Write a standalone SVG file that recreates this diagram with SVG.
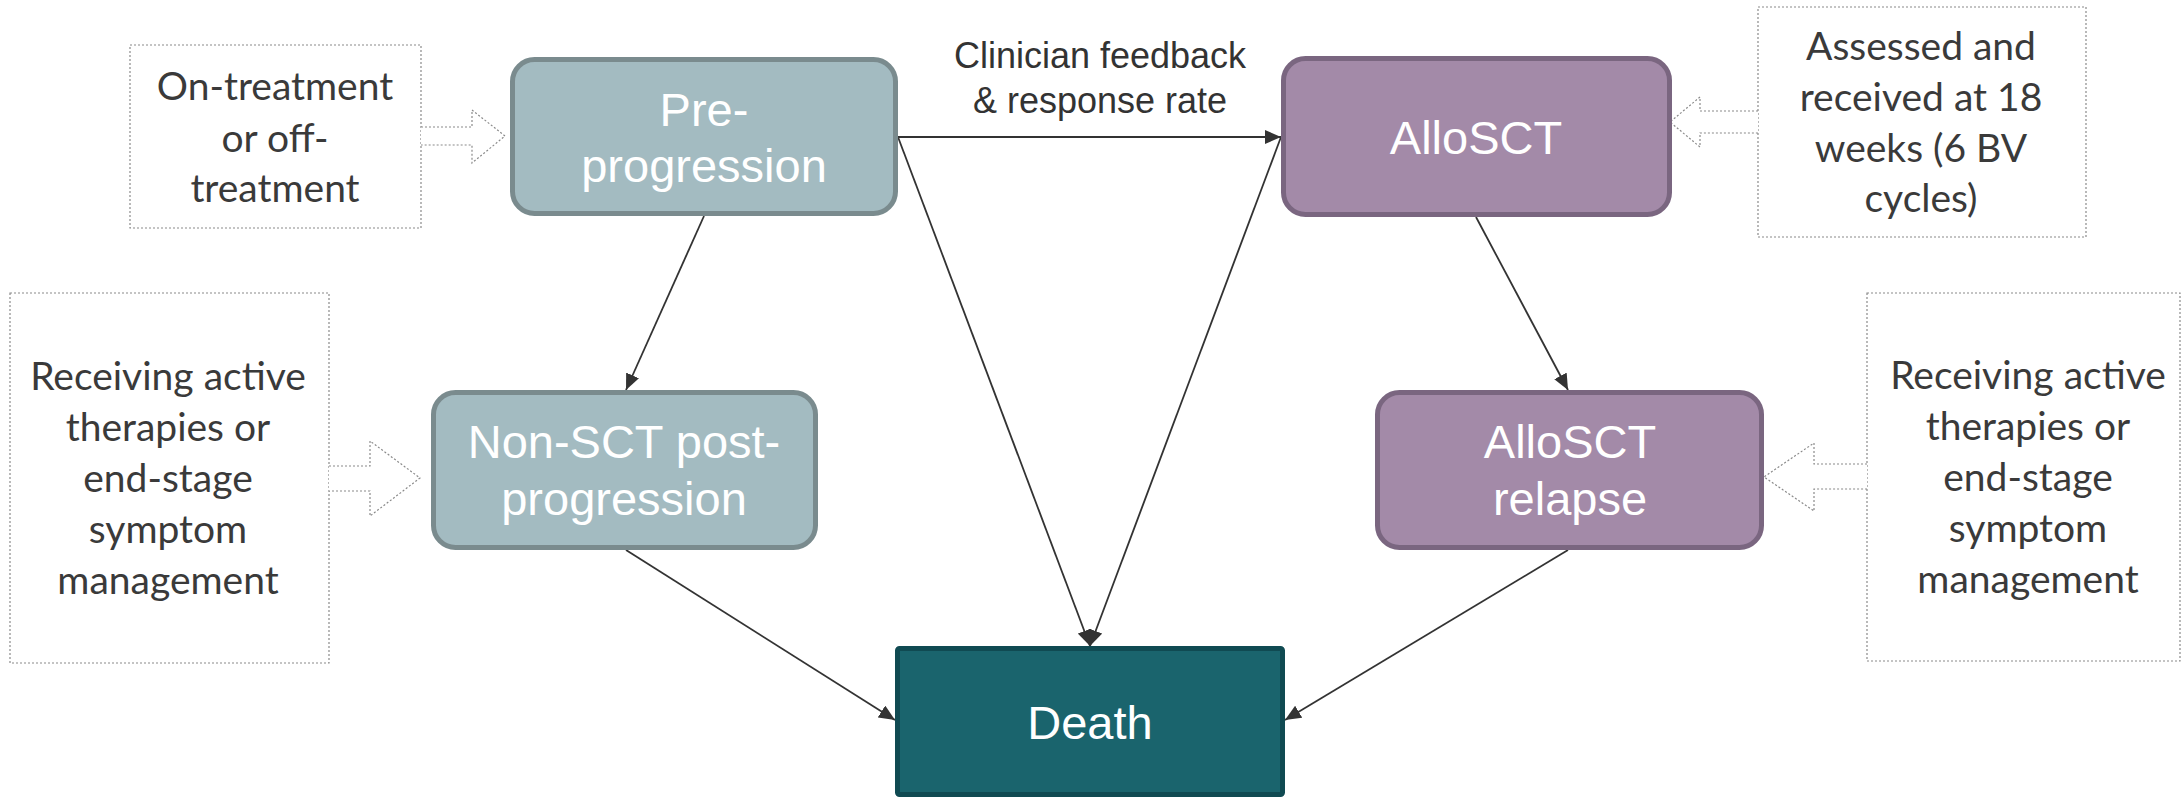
<svg xmlns="http://www.w3.org/2000/svg" width="2181" height="797" viewBox="0 0 2181 797">
<style>
.note{fill:#ffffff;stroke:#8a8a8a;stroke-width:1.2;stroke-dasharray:2 2}
.blk{fill:#ffffff;stroke:#8a8a8a;stroke-width:1.2;stroke-dasharray:2 2}
.nt{font-family:Lato,"Liberation Sans",sans-serif;font-size:39px;fill:#3a3a3a;text-anchor:middle}
.teal{fill:#a3bbc1;stroke:#7a8b8e;stroke-width:5}
.purp{fill:#a38aa8;stroke:#7a6680;stroke-width:5}
.death{fill:#1a646d;stroke:#104a52;stroke-width:5}
.lbl{font-family:"Liberation Sans",Arial,sans-serif;font-size:47px;fill:#ffffff;text-anchor:middle}
.edge{stroke:#333333;stroke-width:1.8;fill:none;marker-end:url(#ah)}
.el{font-family:"Liberation Sans",Arial,sans-serif;font-size:36px;fill:#333333;text-anchor:middle}
</style>
<defs>
<marker id="ah" markerUnits="userSpaceOnUse" markerWidth="16" markerHeight="14" refX="16" refY="7" orient="auto">
<path d="M0,0 L16,7 L0,14 z" fill="#333333"/>
</marker>
</defs>

<g id="note-ontreatment">
<rect class="note" x="130" y="45" width="291" height="183"/>
<path class="blk" d="M421,127 H472 V110 L505,136 L472,163 V145 H421"/>
<text class="nt"><tspan x="275" y="100">On-treatment</tspan><tspan x="275" y="152">or off-</tspan><tspan x="275" y="202">treatment</tspan></text>
</g>

<g id="note-assessed">
<rect class="note" x="1758" y="7" width="328" height="230"/>
<path class="blk" d="M1758,111 H1700 V97 L1670,122 L1700,147 V133 H1758"/>
<text class="nt"><tspan x="1921" y="60">Assessed and</tspan><tspan x="1921" y="111">received at 18</tspan><tspan x="1921" y="162">weeks (6 BV</tspan><tspan x="1921" y="212">cycles)</tspan></text>
</g>

<g id="note-left">
<rect class="note" x="10" y="293" width="319" height="370"/>
<path class="blk" d="M329,466 H370 V441 L420,478 L370,516 V491 H329"/>
<text class="nt"><tspan x="168" y="390">Receiving active</tspan><tspan x="168" y="441">therapies or</tspan><tspan x="168" y="492">end-stage</tspan><tspan x="168" y="543">symptom</tspan><tspan x="168" y="594">management</tspan></text>
</g>

<g id="note-right">
<rect class="note" x="1867" y="293" width="313" height="368"/>
<path class="blk" d="M1867,464 H1814 V443 L1764,477 L1814,511 V489 H1867"/>
<text class="nt"><tspan x="2028" y="389">Receiving active</tspan><tspan x="2028" y="440">therapies or</tspan><tspan x="2028" y="491">end-stage</tspan><tspan x="2028" y="542">symptom</tspan><tspan x="2028" y="593">management</tspan></text>
</g>

<g id="connectors">
<line class="edge" x1="898" y1="137" x2="1281" y2="137"/>
<line class="edge" x1="704" y1="216" x2="626" y2="390"/>
<line class="edge" x1="898" y1="137" x2="1090" y2="646"/>
<line class="edge" x1="1281" y1="137" x2="1090" y2="646"/>
<line class="edge" x1="1476" y1="217" x2="1568" y2="390"/>
<line class="edge" x1="626" y1="550" x2="895" y2="720"/>
<line class="edge" x1="1568" y1="550" x2="1285" y2="720"/>
<text class="el"><tspan x="1100" y="68">Clinician feedback</tspan><tspan x="1100" y="113">&amp; response rate</tspan></text>
</g>

<g id="node-preprogression">
<rect class="teal" x="512.5" y="59.5" width="383" height="154" rx="22"/>
<text class="lbl"><tspan x="704" y="126">Pre-</tspan><tspan x="704" y="182">progression</tspan></text>
</g>

<g id="node-allosct">
<rect class="purp" x="1283.5" y="58.5" width="386" height="156" rx="22"/>
<text class="lbl"><tspan x="1476" y="154">AlloSCT</tspan></text>
</g>

<g id="node-nonsct">
<rect class="teal" x="433.5" y="392.5" width="382" height="155" rx="22"/>
<text class="lbl"><tspan x="624" y="458">Non-SCT post-</tspan><tspan x="624" y="515">progression</tspan></text>
</g>

<g id="node-relapse">
<rect class="purp" x="1377.5" y="392.5" width="384" height="155" rx="22"/>
<text class="lbl"><tspan x="1570" y="458">AlloSCT</tspan><tspan x="1570" y="515">relapse</tspan></text>
</g>

<g id="node-death">
<rect class="death" x="897.5" y="648.5" width="385" height="146" rx="2"/>
<text class="lbl"><tspan x="1090" y="739">Death</tspan></text>
</g>
</svg>
